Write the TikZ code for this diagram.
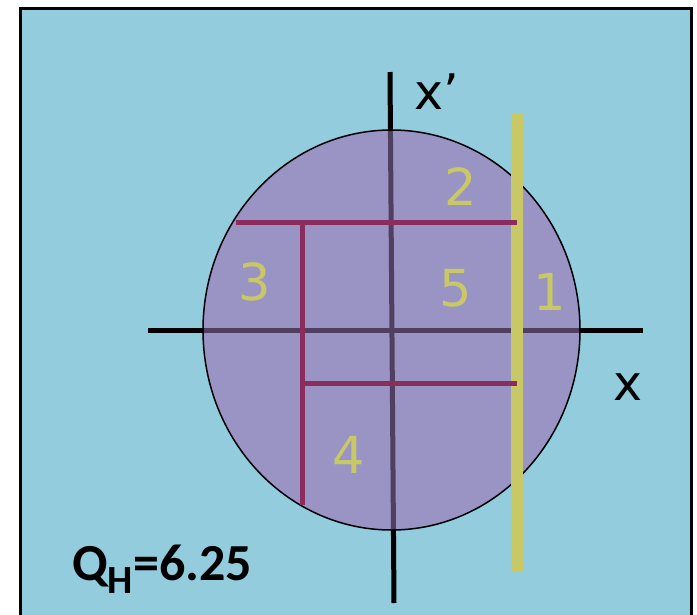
\documentclass[tikz,border=0pt]{standalone}
\usepackage{fontspec}
\setmainfont{Carlito}
\newfontfamily\numfont{DejaVu Sans}
\usetikzlibrary{shapes.geometric}
\definecolor{bgblue}{HTML}{92CCDD}
\definecolor{disk}{HTML}{9A94C4}
\definecolor{axin}{HTML}{50405F}
\definecolor{mag}{HTML}{8B2C5C}
\definecolor{yel}{HTML}{C8C866}
\tikzset{
  axis/.style={line width=5pt, black},
  magline/.style={line width=5pt, mag},
  region/.style={font=\numfont\fontsize{51}{51}\selectfont, text=yel, inner sep=0pt, anchor=base},
  axlabel/.style={font=\numfont\fontsize{49}{49}\selectfont, inner sep=0pt, anchor=base west},
}
\begin{document}
\begin{tikzpicture}[x=1pt,y=-1pt]
\useasboundingbox (0,0) rectangle (697,614);
\begin{scope}
\clip (0,0) rectangle (697,614);
\fill[white] (0,0) rectangle (697,614);
\draw[line width=3pt, fill=bgblue] (20,8) rectangle (691,650);
% axes
\coordinate (xl) at (148,330);
\coordinate (xr) at (643,330);
\coordinate (yt) at (390,72);
\coordinate (yb) at (394,603);
\draw[axis] (xl) -- (xr);
\draw[axis] (yt) -- (yb);
% disk
\node[ellipse, fill=disk, minimum width=377pt, minimum height=400pt, inner sep=0pt] (disk) at (391.5,330) {};
\begin{scope}
\clip (391.5,330) ellipse [x radius=188.5pt, y radius=200pt];
\draw[axis, axin] (xl) -- (xr);
\draw[axis, axin] (yt) -- (yb);
\end{scope}
\draw[black, line width=1.5pt] (disk.center) ellipse [x radius=188.5pt, y radius=200pt];
% yellow bar
\node[fill=yel, minimum width=12pt, minimum height=459pt, inner sep=0pt] (bar) at (517,342.5) {};
% magenta partition lines
\coordinate (t1) at (236,222);
\coordinate (t2) at (517,222);
\coordinate (v1) at (302,222);
\coordinate (v2) at (302,505);
\coordinate (b1) at (302,383);
\coordinate (b2) at (517,383);
\draw[magline] (t1) -- (t2);
\draw[magline] (v1) -- (v2);
\draw[magline] (b1) -- (b2);
% region labels
\node[region] (r2) at (461,205) {2};
\node[region] (r3) at (255,300) {3};
\node[region] (r5) at (456,306) {5};
\node[region] (r1) at (550,310) {1};
\node[region] (r4) at (349,473) {4};
% axis labels
\node[axlabel] (lxp) at (414,109) {x’};
\node[axlabel] (lx) at (613,400) {x};
% Q_H
\node[inner sep=0pt, anchor=base west, font=\bfseries\fontsize{52}{52}\selectfont] (q) at (72,580)
  {Q\raisebox{-13pt}{\fontsize{40}{40}\selectfont H}=6.25};
\end{scope}
\end{tikzpicture}
\end{document}
